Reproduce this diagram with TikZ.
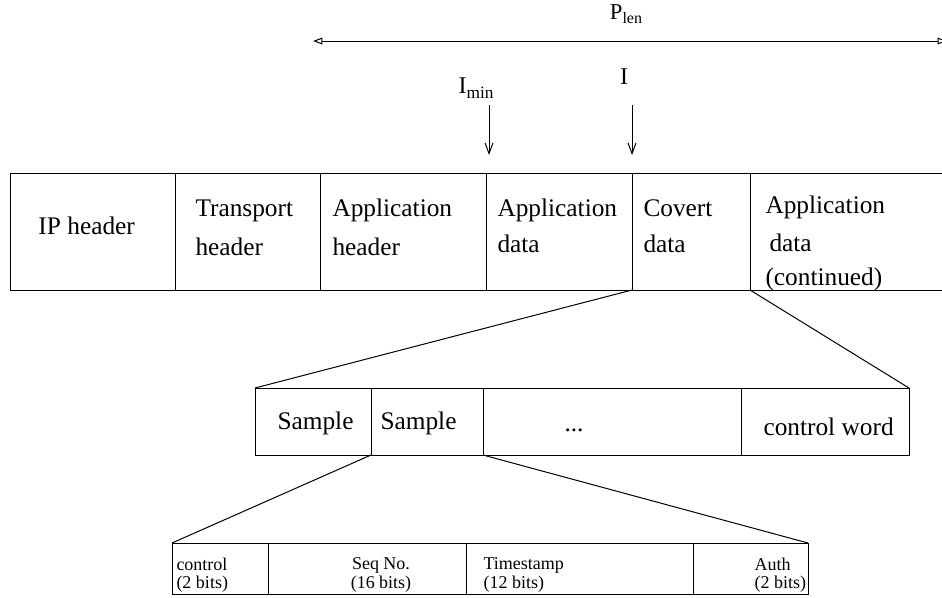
\documentclass[tikz,border=0pt]{standalone}
\usepackage{fontspec}
\setmainfont{Liberation Serif}
\usetikzlibrary{arrows.meta}
\newcommand\fieldfont{\fontsize{13.5}{14}\selectfont\lineskiplimit=-20pt\relax}
\begin{document}
\begin{tikzpicture}[x=0.75pt,y=-0.75pt,line width=0.75pt,
  big/.style={font=\fontsize{19}{19}\selectfont,inner sep=0pt,anchor=base west},
  small/.style={font=\fieldfont,inner sep=0pt,anchor=north west,align=left},
  pointer/.style={-{Straight Barb[length=8pt,width=6pt]}},
  span/.style={{Triangle[open,length=7pt,width=5pt]}-{Triangle[open,length=7pt,width=5pt]}}]
\useasboundingbox (0,0) rectangle (942,597);
% payload length and the two offsets
\coordinate (lenL) at (313,41);
\coordinate (lenR) at (947,41);
\draw[span] (lenL) -- (lenR);
\node[inner sep=0pt] (plen) at (626,14) {\fontsize{17}{17}\selectfont P\raisebox{-0.4ex}{\fontsize{12}{12}\selectfont len}};
\node[inner sep=0pt] (imin) at (476,88) {\fontsize{18}{18}\selectfont I\raisebox{-0.4ex}{\fontsize{13}{13}\selectfont min}};
\node[inner sep=0pt] (ival) at (624,77) {\fontsize{18}{18}\selectfont I};
\coordinate (iminA) at (489,105);
\coordinate (iminB) at (489,155);
\coordinate (ivalA) at (632,105);
\coordinate (ivalB) at (632,155);
\draw[pointer] (iminA) -- (iminB);
\draw[pointer] (ivalA) -- (ivalB);
% packet
\draw (10,173) -- (950,173);
\draw (10,290) -- (950,290);
\foreach \n/\x in {ip/10,tr/175,ah/320,ad/486,cd/632,ac/750} {
  \coordinate (\n N) at (\x,173);
  \coordinate (\n S) at (\x,290);
  \draw (\n N) -- (\n S);
}
\node[big] (iphdr) at (38,234) {IP header};
\node[big] (trA) at (195,216) {Transport};
\node[big] (trB) at (195,255) {header};
\node[big] (ahA) at (332,216) {Application};
\node[big] (ahB) at (332,255) {header};
\node[big] (adA) at (497,216) {Application};
\node[big] (adB) at (497,252) {data};
\node[big] (cdA) at (643,216) {Covert};
\node[big] (cdB) at (643,252) {data};
\node[big] (acA) at (765,213) {Application};
\node[big] (acB) at (769,251) {data};
\node[big] (acC) at (765,285) {(continued)};
% covert data
\foreach \n/\x in {sa/255,sb/371,dots/483,cw/741,end/909} {
  \coordinate (\n N) at (\x,388);
  \coordinate (\n S) at (\x,455);
}
\draw (saN) -- (endN) -- (endS) -- (saS) -- cycle;
\foreach \n in {sb,dots,cw} \draw (\n N) -- (\n S);
\draw (cdS) -- (saN);
\draw (acS) -- (endN);
\node[big] (smpA) at (277,429) {Sample};
\node[big] (smpB) at (380,429) {Sample};
\node[big,anchor=base] (more) at (574,431) {...};
\node[big] (ctrl) at (763,435) {control word};
% one sample
\foreach \n/\x in {ct/172,sq/268,ts/466,au/693,fin/808} {
  \coordinate (\n N) at (\x,543);
  \coordinate (\n S) at (\x,594);
}
\draw (ctN) -- (finN) -- (finS) -- (ctS) -- cycle;
\foreach \n in {sq,ts,au} \draw (\n N) -- (\n S);
\draw (sbS) -- (ctN);
\draw (dotsS) -- (finN);
\node[small] (ctf) at (176,557) {control\\(2 bits)};
\node[small,anchor=north,align=center] (sqf) at (381,557) {Seq No.\\(16 bits)};
\node[small] (tsf) at (483,557) {Timestamp\\(12 bits)};
\node[small] (auf) at (754,557) {Auth\\(2 bits)};
\end{tikzpicture}
\end{document}
